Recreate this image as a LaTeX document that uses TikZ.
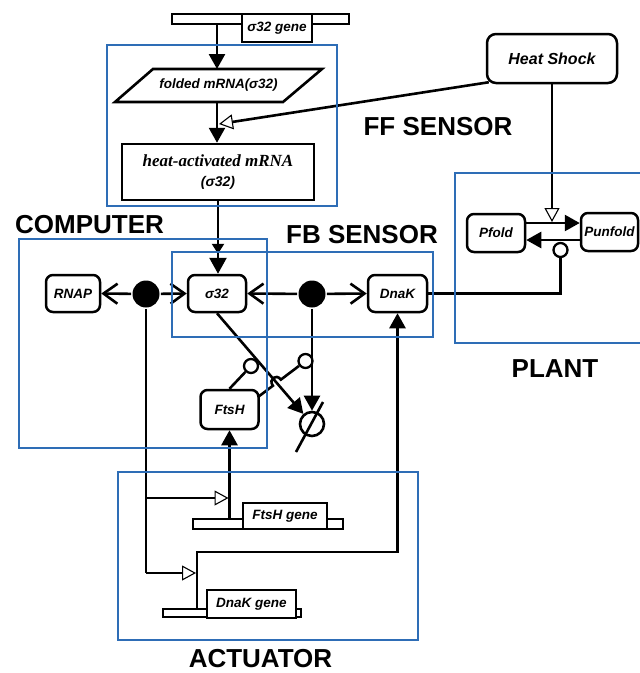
\documentclass[tikz,border=0pt]{standalone}
\usepackage{fontspec}
\setmainfont{Liberation Sans}
\newfontfamily\serifit{Liberation Serif}
\usetikzlibrary{arrows.meta,calc}
\definecolor{boxblue}{RGB}{46,109,182}
\begin{document}
\begin{tikzpicture}[x=1pt,y=-1pt,
  line width=2.6pt,
  lbl/.style={font=\fontsize{13.5}{15}\selectfont\bfseries\itshape},
  rnode/.style={draw,rounded corners=7pt,fill=white,lbl,inner sep=0pt,line width=2.5pt},
  gbox/.style={draw,fill=white,inner sep=0pt,line width=2.5pt},
  big/.style={font=\fontsize{26}{28}\selectfont\bfseries,inner sep=0pt,anchor=base},
  region/.style={draw=boxblue,line width=2.3pt},
  fa/.style={-{Triangle[length=15pt,width=16pt]}},
  oa/.style={-{Triangle[open,length=14pt,width=15pt,fill=white,line width=1.1pt]}},
  ba/.style={-{Straight Barb[length=14pt,width=20pt]}},
  inh/.style={circle,draw,fill=white,minimum size=14pt,inner sep=0pt,line width=2.3pt},
  dot/.style={circle,fill=black,minimum size=27pt,inner sep=0pt},
  ]
\useasboundingbox (0,0) rectangle (640,673);

% genes
\node[gbox,minimum width=177pt,minimum height=10pt] (sgbar) at (260.5,19) {};
\node[gbox,lbl,minimum width=70pt,minimum height=28pt] (sgbox) at (277,28) {σ32 gene};
\node[gbox,minimum width=150pt,minimum height=10pt] (fbar) at (268,524) {};
\node[gbox,lbl,minimum width=84pt,minimum height=26pt] (fbox) at (285,516) {FtsH gene};
\node[gbox,minimum width=138pt,minimum height=8pt] (dbar) at (232,613) {};
\node[gbox,lbl,minimum width=89pt,minimum height=28pt] (dbox) at (251.5,604) {DnaK gene};

% mRNA
\draw[fill=white] (153,69) -- (322,69) -- (283,102) -- (115,102) -- cycle;
\node[lbl] (fold) at (218.5,85.5) {folded mRNA(σ32)};
\coordinate (foldT) at (217,69);
\coordinate (foldB) at (217,102);
\node[gbox,minimum width=192pt,minimum height=56pt,align=center,
  font=\fontsize{14}{20}\selectfont] (ham) at (218,172)
  {{\serifit\fontsize{17}{20}\selectfont\bfseries\itshape heat-activated mRNA}\\{\bfseries\itshape (σ32)}};

% species
\node[rnode,minimum width=54pt,minimum height=37pt] (rnap) at (73,293.5) {RNAP};
\node[rnode,minimum width=58pt,minimum height=37pt] (s32) at (217,293.5) {σ32};
\node[rnode,minimum width=59pt,minimum height=37pt] (dnak) at (397.5,293.5) {DnaK};
\node[rnode,minimum width=58pt,minimum height=39pt] (ftsh) at (229.5,409.5) {FtsH};
\node[rnode,minimum width=58pt,minimum height=38pt] (pfold) at (496,233) {Pfold};
\node[rnode,minimum width=57pt,minimum height=38pt] (punfold) at (609.5,232) {Punfold};
\node[rnode,minimum width=130pt,minimum height=49pt,rounded corners=9pt,
  font=\fontsize{16}{18}\selectfont\bfseries\itshape] (hs) at (552,58.5) {Heat Shock};

\node[dot] (d1) at (146,294) {};
\node[dot] (d2) at (312,294) {};
\node[circle,draw,minimum size=24pt,inner sep=0pt] (deg) at (312,424) {};
\draw ($(deg)+(-16,28)$) -- ($(deg)+(11,-22)$);

\node[inh] (c1) at (251,366) {};
\node[inh] (c2) at (305.5,361) {};
\node[inh] (c3) at (560.5,250) {};

% connectors
\draw[fa] (sgbar.south -| foldT) -- (foldT);
\draw[fa] (foldB) -- (foldB |- ham.north);
\coordinate (ffT) at (219,124);
\draw[oa] ($(hs.south west)+(3,-2)$) -- (ffT);
\draw[-{Triangle[length=10pt,width=12pt,sep=4pt]Triangle[length=16pt,width=17pt]}]
  (ham.south) -- (ham.south |- s32.north);

\draw[ba] (d1) -- (rnap.east);
\draw[ba] (d1) -- (s32.west);
\draw[ba] (d2) -- (s32.east);
\draw[ba] (d2) -- (dnak.west);

\draw (dnak.east) -| (c3.south);
\draw[fa] ($(pfold.east)+(0,-10)$) -- ($(punfold.west)+(0,-9)$);
\draw[fa] ($(punfold.west)+(0,8)$) -- ($(pfold.east)+(0,7)$);
\coordinate (hsT) at (552,222);
\draw[oa] (hs.south) -- (hsT);

\draw[fa] (s32.south) -- (deg);
\draw[fa] (d2) -- (deg.north);
\draw (ftsh.north) -- (c1);
\coordinate (fh1) at (258,397);
\coordinate (hp1) at (272.9,385.7);
\coordinate (hp2) at (280.9,379.6);
\draw (fh1) -- (hp1) .. controls (268.1,379.3) and (276.1,373.2) .. (hp2) -- (c2);

\coordinate (ftg) at (ftsh.south |- fbar.north);
\draw[fa] (ftg) -- (ftsh.south);
\coordinate (b1) at (146,498);
\coordinate (b2) at (146,573);
\draw (d1) -- (b2);
\draw[oa] (b1) -- ($(b1 -| ftg)+(-1,0)$);
\coordinate (dng) at (197,609);
\coordinate (dkc) at (197,552);
\draw[fa] (dng) -- (dkc) -| (dnak.south);
\draw[oa] (b2) -- ($(b2 -| dng)+(-1,0)$);

% regions
\draw[region] (107,45) rectangle (337,206);
\draw[region] (19,239) rectangle (267,448);
\draw[region] (172,252) rectangle (433,337);
\draw[region] (455,173) rectangle (650,343);
\draw[region] (118,472) rectangle (418,640);

\node[big] (lff) at (438,135.5) {FF SENSOR};
\node[big] (lfb) at (362,243.5) {FB SENSOR};
\node[big] (lcomp) at (89.5,233) {COMPUTER};
\node[big] (lplant) at (555,377.5) {PLANT};
\node[big] (lact) at (260.5,667) {ACTUATOR};
\end{tikzpicture}
\end{document}
